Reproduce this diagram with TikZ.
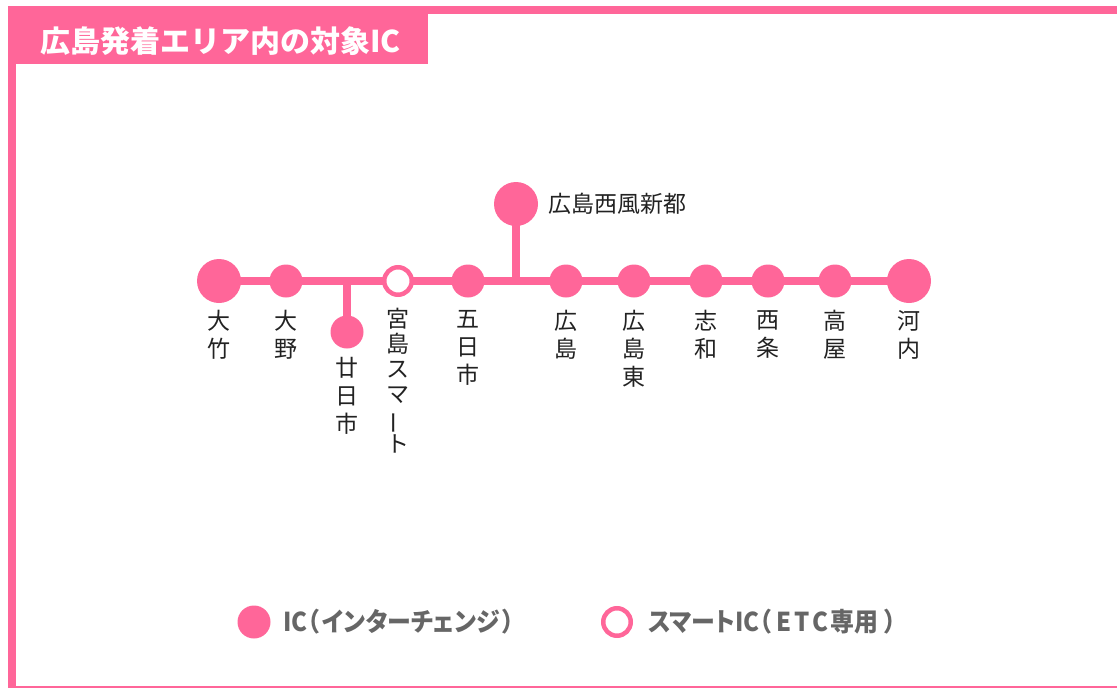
\documentclass[tikz,border=0pt]{standalone}
\usepackage{fontspec}
\usepackage{graphicx}
\setmainfont{Noto Sans CJK JP}
\newfontfamily\legfont{Noto Sans CJK JP}[FakeStretch=0.92,RawFeature=+palt]
\usetikzlibrary{backgrounds}
\definecolor{pk}{HTML}{FF6699}
\definecolor{gy}{HTML}{666666}
\definecolor{lb}{HTML}{222222}
\tikzset{
  bigic/.style={circle,fill=pk,minimum size=44pt,inner sep=0pt},
  ic/.style={circle,fill=pk,minimum size=33pt,inner sep=0pt},
  smart/.style={circle,fill=white,draw=pk,line width=4.5pt,minimum size=27.5pt,inner sep=0pt},
  route/.style={draw=pk,line width=8pt},
  lbl/.style={anchor=north,inner sep=0pt,align=center,text=lb,font=\fontsize{23}{28}\selectfont},
  legtext/.style={anchor=west,inner sep=0pt,text=gy,font=\legfont\fontsize{26}{28}\selectfont\bfseries},
  frame/.style={fill=pk},
}
\begin{document}
\begin{tikzpicture}[x=1pt,y=-1pt]
\useasboundingbox (0,0) rectangle (1117,688);
% frame
\fill[frame] (8,6) rectangle (1117,14);
\fill[frame] (8,6) rectangle (428,64);
\fill[frame] (8,6) rectangle (16,686);
\fill[frame] (8,686) rectangle (1117,688);
\node[anchor=west,inner sep=0pt,text=white,font=\fontsize{30}{32}\selectfont\bfseries] (title) at (40,41) {広島発着エリア内の対象IC};

% stations
\node[bigic] (ootake) at (219,281) {};
\node[ic] (oono) at (286,281) {};
\node[ic] (hatsu) at (347,332) {};
\node[smart] (miya) at (398,281) {};
\node[ic] (itsu) at (468,281) {};
\node[bigic] (nishi) at (516,204) {};
\node[ic] (hiro) at (566,281) {};
\node[ic] (hirohi) at (634,281) {};
\node[ic] (shiwa) at (706,281) {};
\node[ic] (saijo) at (768,281) {};
\node[ic] (takaya) at (835,281) {};
\node[bigic] (kouchi) at (909,281) {};

\begin{pgfonlayer}{background}
\draw[route] (ootake.center) -- (kouchi.center);
\draw[route] (hatsu.center) -- (hatsu.center |- ootake.center);
\draw[route] (nishi.center) -- (nishi.center |- ootake.center);
\end{pgfonlayer}

% labels
\node[lbl] (l1) at (219,310) {大\\竹};
\node[lbl] (l2) at (286,310) {大\\野};
\node[lbl] (l3) at (347,357) {廿\\日\\市};
\node[lbl,font=\fontsize{23}{25}\selectfont] (l4) at (398,308) {宮\\島\\ス\\マ\\\rotatebox[origin=c]{90}{ー}\\ト};
\node[lbl] (l5) at (468,310) {五\\日\\市};
\node[lbl] (l6) at (566,310) {広\\島};
\node[lbl] (l7) at (634,310) {広\\島\\東};
\node[lbl] (l8) at (706,310) {志\\和};
\node[lbl] (l9) at (768,310) {西\\条};
\node[lbl] (l10) at (835,310) {高\\屋};
\node[lbl] (l11) at (909,310) {河\\内};
\node[anchor=west,inner sep=0pt,text=lb,font=\fontsize{23}{26}\selectfont] (l12) at (548,204) {広島西風新都};

% legend
\node[circle,fill=pk,minimum size=33pt,inner sep=0pt] (legic) at (254,622) {};
\node[legtext] (legict) at (283,622) {IC（\kern3ptインターチェンジ\kern3pt）};
\node[smart] (legsm) at (617,622) {};
\node[legtext] (legsmt) at (648,622) {スマートIC（\kern5ptE\kern3ptT\kern3ptC\kern2pt専用\kern6pt）};
\end{tikzpicture}
\end{document}
